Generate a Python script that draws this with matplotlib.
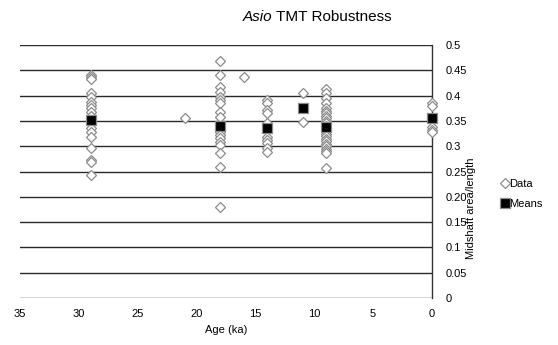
import matplotlib
matplotlib.use('Agg')
import matplotlib.pyplot as plt
from matplotlib.lines import Line2D

matplotlib.rcParams['font.family'] = ['Liberation Sans', 'DejaVu Sans']

# %% data
age_29 = [0.441, 0.437, 0.432, 0.405, 0.397, 0.387, 0.381, 0.375, 0.368, 0.36,
          0.346, 0.336, 0.328, 0.318, 0.296, 0.273, 0.268, 0.243]
age_21 = [0.356]
age_18 = [0.468, 0.441, 0.417, 0.407, 0.397, 0.391, 0.385, 0.368, 0.358,
          0.328, 0.322, 0.316, 0.308, 0.302, 0.287, 0.259, 0.18]
age_16 = [0.437]
age_14 = [0.391, 0.385, 0.371, 0.366, 0.346, 0.318, 0.312, 0.306, 0.296, 0.289]
age_11 = [0.405, 0.348]
age_9 = [0.413, 0.405, 0.395, 0.385, 0.375, 0.37, 0.365, 0.36, 0.355, 0.35,
         0.345, 0.34, 0.335, 0.33, 0.325, 0.32, 0.315, 0.31, 0.305, 0.3,
         0.295, 0.29, 0.286, 0.257]
age_0 = [0.385, 0.379, 0.338, 0.332, 0.328]

data_ages = [29, 21, 18, 16, 14, 11, 9, 0]
data_vals = [age_29, age_21, age_18, age_16, age_14, age_11, age_9, age_0]

mean_ages = [29, 18, 14, 11, 9, 0]
mean_vals = [0.352, 0.340, 0.336, 0.375, 0.338, 0.356]

yticks = [0, 0.05, 0.1, 0.15, 0.2, 0.25, 0.3, 0.35, 0.4, 0.45, 0.5]
ytick_labels = ['0', '0.05', '0.1', '0.15', '0.20', '0.25', '0.3', '0.35',
                '0.4', '0.45', '0.5']
xticks = [35, 30, 25, 20, 15, 10, 5, 0]

# %%
fig = plt.figure(figsize=(5.58, 3.45), dpi=100)
ax = fig.add_axes([20 / 558, 1 - 298 / 345, 412 / 558, 253 / 345])

for a, vals in zip(data_ages, data_vals):
    ax.plot([a] * len(vals), vals, ls='none', marker='D', ms=4.6,
            mfc='white', mec='#8c8c8c', mew=0.9, zorder=3, clip_on=False)
ax.plot(mean_ages, mean_vals, ls='none', marker='s', ms=6.5,
        mfc='black', mec='#8c8c8c', mew=0.9, zorder=4, clip_on=False)

ax.set_xlim(35, 0)
ax.set_ylim(0, 0.5)
ax.set_xticks(xticks)
ax.set_xticklabels([str(t) for t in xticks])
ax.yaxis.tick_right()
ax.set_yticks(yticks)
ax.set_yticklabels(ytick_labels)
ax.tick_params(length=0, labelsize=8, pad=8)
ax.tick_params(axis='y', pad=10)
for lbl in ax.get_yticklabels():
    lbl.set_horizontalalignment('left')
ax.grid(axis='y', color='#2a2a2a', lw=1.0)
ax.set_axisbelow(True)
for s in ['top', 'left', 'bottom']:
    ax.spines[s].set_visible(False)
ax.spines['right'].set_color('#333333')
ax.spines['right'].set_linewidth(1.0)

ax.set_xlabel('Age (ka)', fontsize=8, labelpad=4)
fig.text(471 / 558, 1 - 208 / 345, 'Midshaft area/length', rotation=90,
         ha='center', va='center', fontsize=8)

# title: italic genus name followed by plain text
fig.text(272 / 558, 1 - 17 / 345, 'Asio', style='italic',
         fontsize=11, ha='right', va='center')
fig.text(272 / 558, 1 - 17 / 345, ' TMT Robustness', fontsize=11,
         ha='left', va='center')

handles = [
    Line2D([], [], ls='none', marker='D', ms=4.6, mfc='white',
           mec='#8c8c8c', mew=0.9),
    Line2D([], [], ls='none', marker='s', ms=6.5, mfc='black',
           mec='#8c8c8c', mew=0.9),
]
fig.legend(handles, ['Data', 'Means'], loc='center left',
           bbox_to_anchor=(496 / 558, 1 - 194 / 345), frameon=False,
           fontsize=8, handlelength=0.6, handletextpad=0.05,
           labelspacing=0.9, borderpad=0)

fig.savefig('out.png', dpi=100)
